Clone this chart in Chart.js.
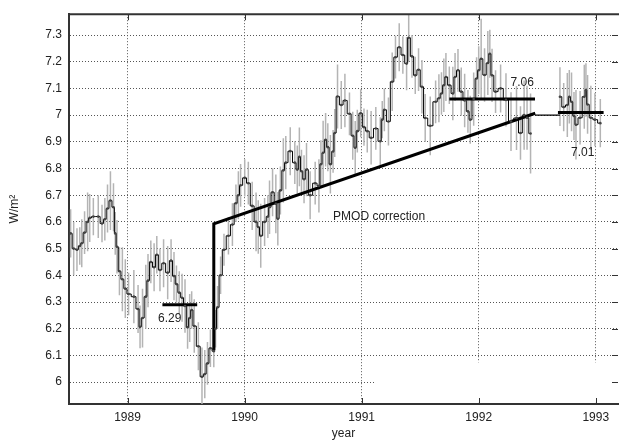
<!DOCTYPE html>
<html>
<head>
<meta charset="utf-8">
<script src="https://cdn.jsdelivr.net/npm/chart.js@4.4.0/dist/chart.umd.min.js"></script>
<style>
  html, body { margin: 0; padding: 0; background: #fff; }
</style>
</head>
<body>
<canvas id="myChart" width="622" height="441"></canvas>
<script>
// first stretch of data (to mid 1992)
var yearsA = [
  1988.514, 1988.540, 1988.568, 1988.592, 1988.609, 1988.633, 1988.659, 1988.677, 1988.708, 1988.750,
  1988.782, 1988.806, 1988.829, 1988.854, 1988.880, 1988.895, 1988.910, 1988.931, 1988.956, 1988.981,
  1989.009, 1989.054, 1989.090, 1989.107, 1989.128, 1989.156, 1989.175, 1989.199, 1989.227, 1989.250,
  1989.277, 1989.308, 1989.343, 1989.372, 1989.397, 1989.418, 1989.442, 1989.466, 1989.491, 1989.513,
  1989.531, 1989.548, 1989.570, 1989.605, 1989.636, 1989.660, 1989.683, 1989.708, 1989.737, 1989.752,
  1989.769, 1989.795, 1989.824, 1989.862, 1989.896, 1989.926, 1989.947, 1989.966, 1990.001, 1990.032,
  1990.065, 1990.098, 1990.117, 1990.138, 1990.171, 1990.199, 1990.213, 1990.239, 1990.267, 1990.284,
  1990.306, 1990.331, 1990.352, 1990.390, 1990.429, 1990.450, 1990.468, 1990.486, 1990.508, 1990.529,
  1990.560, 1990.603, 1990.635, 1990.652, 1990.671, 1990.692, 1990.711, 1990.733, 1990.756, 1990.770,
  1990.794, 1990.826, 1990.857, 1990.896, 1990.924, 1990.945, 1990.963, 1990.992, 1991.020, 1991.048,
  1991.081, 1991.121, 1991.159, 1991.176, 1991.194, 1991.229, 1991.261, 1991.289, 1991.321, 1991.352,
  1991.384, 1991.402, 1991.430, 1991.458, 1991.486, 1991.515, 1991.543, 1991.586, 1991.632, 1991.660,
  1991.682, 1991.702, 1991.720, 1991.749, 1991.779, 1991.798, 1991.823, 1991.851, 1991.880, 1991.908,
  1991.928, 1991.957, 1991.982, 1992.000, 1992.021, 1992.050, 1992.078, 1992.095, 1992.114, 1992.144,
  1992.187, 1992.233, 1992.276, 1992.323, 1992.357, 1992.388, 1992.413, 1992.443
];
var valuesA = [
  6.557, 6.500, 6.496, 6.510, 6.520, 6.560, 6.600, 6.615, 6.620, 6.620,
  6.594, 6.610, 6.650, 6.680, 6.655, 6.557, 6.507, 6.415, 6.385, 6.350,
  6.330, 6.320, 6.274, 6.207, 6.240, 6.320, 6.380, 6.450, 6.430, 6.477,
  6.420, 6.445, 6.410, 6.455, 6.397, 6.367, 6.335, 6.316, 6.285, 6.205,
  6.240, 6.270, 6.210, 6.134, 6.020, 6.030, 6.070, 6.127, 6.116, 6.200,
  6.280, 6.400, 6.496, 6.548, 6.590, 6.670, 6.700, 6.737, 6.765, 6.745,
  6.660, 6.600, 6.581, 6.548, 6.600, 6.620, 6.655, 6.711, 6.668, 6.612,
  6.718, 6.793, 6.822, 6.865, 6.822, 6.796, 6.844, 6.790, 6.760, 6.796,
  6.700, 6.745, 6.735, 6.816, 6.859, 6.908, 6.880, 6.816, 6.864, 6.933,
  7.070, 7.038, 7.055, 7.005, 6.923, 6.878, 6.940, 7.007, 6.955, 6.940,
  6.915, 6.950, 6.902, 6.983, 7.020, 6.976, 7.125, 7.217, 7.254, 7.225,
  7.193, 7.290, 7.220, 7.149, 7.170, 7.106, 6.989, 6.960, 7.050, 7.063,
  7.081, 7.112, 7.143, 7.112, 7.081, 7.143, 7.168, 7.088, 7.055, 7.014,
  6.983, 7.060, 7.137, 7.168, 7.211, 7.150, 7.195, 7.230, 7.149, 7.088,
  7.100, 7.057, 6.976, 6.989, 6.933, 7.000, 6.990, 6.931
];
var errA = [
  0.09, 0.10, 0.08, 0.07, 0.09, 0.08, 0.11, 0.09, 0.07, 0.08,
  0.07, 0.08, 0.09, 0.11, 0.09, 0.08, 0.10, 0.09, 0.12, 0.11,
  0.08, 0.10, 0.09, 0.08, 0.11, 0.12, 0.10, 0.08, 0.09, 0.07,
  0.08, 0.09, 0.10, 0.08, 0.09, 0.07, 0.08, 0.09, 0.10, 0.08,
  0.09, 0.07, 0.10, 0.09, 0.11, 0.09, 0.08, 0.07, 0.06, 0.07,
  0.08, 0.07, 0.06, 0.07, 0.08, 0.07, 0.09, 0.08, 0.07, 0.08,
  0.09, 0.11, 0.10, 0.12, 0.09, 0.08, 0.10, 0.09, 0.11, 0.10,
  0.09, 0.12, 0.10, 0.09, 0.08, 0.09, 0.11, 0.08, 0.09, 0.10,
  0.09, 0.08, 0.10, 0.09, 0.12, 0.10, 0.09, 0.11, 0.08, 0.09,
  0.12, 0.09, 0.10, 0.08, 0.09, 0.10, 0.08, 0.09, 0.07, 0.08,
  0.10, 0.08, 0.09, 0.07, 0.08, 0.09, 0.11, 0.08, 0.09, 0.07,
  0.10, 0.09, 0.08, 0.07, 0.08, 0.10, 0.09, 0.11, 0.08, 0.09,
  0.08, 0.10, 0.09, 0.07, 0.10, 0.09, 0.08, 0.09, 0.10, 0.08,
  0.09, 0.10, 0.08, 0.09, 0.15, 0.10, 0.12, 0.09, 0.10, 0.08,
  0.09, 0.10, 0.11, 0.12, 0.10, 0.13, 0.12, 0.15
];

// second stretch (late 1992)
var yearsB = [1992.694, 1992.726, 1992.757, 1992.774, 1992.793, 1992.814, 1992.831,
              1992.866, 1992.902, 1992.916, 1992.930, 1992.958, 1992.993, 1993.039];
var valuesB = [7.069, 7.030, 7.038, 7.069, 7.050, 6.997, 6.964,
               6.990, 7.069, 7.094, 7.040, 6.990, 6.983, 6.970];
var errB = [0.11, 0.09, 0.12, 0.10, 0.11, 0.09, 0.13, 0.10, 0.12, 0.10, 0.11, 0.12, 0.10, 0.09];

// mean levels [from, to, value]
var means = [[1989.298, 1989.595, 6.29], [1991.749, 1992.481, 7.06], [1992.677, 1993.067, 7.01]];
var gapLine = [[1992.483, 7.0], [1992.694, 7.0]];
// PMOD correction
var pmodX = [1989.737, 1989.737, 1992.483];
var pmodY = [6.12, 6.593, 7.007];

var notes = ['6.29', '7.06', '7.01', 'PMOD correction'];
var noteX = [1989.36, 1992.371, 1992.889, 1991.149];
var noteY = [6.238, 7.122, 6.86, 6.619];

var xTicks = [1989, 1990, 1991, 1992, 1993];
var yTicks = [6.0, 6.1, 6.2, 6.3, 6.4, 6.5, 6.6, 6.7, 6.8, 6.9, 7.0, 7.1, 7.2, 7.3];
var yTickLabels = ['6', '6.1', '6.2', '6.3', '6.4', '6.5', '6.6', '6.7', '6.8', '6.9', '7', '7.1', '7.2', '7.3'];

// blank box in the lower right, as in the original figure
var boxX = [1991.11, 1993.14];
var boxTop = 6.074;

function pts(xs, ys) {
  return xs.map(function (x, i) { return {x: x, y: ys[i]}; });
}

function lineSet(data, w) {
  return {
    type: 'line', data: data, borderColor: '#000', borderWidth: w,
    pointRadius: 0, fill: false, tension: 0
  };
}

var extras = {
  id: 'extras',
  beforeDatasetsDraw(chart) {
    var ctx = chart.ctx, sx = chart.scales.x, sy = chart.scales.y, a = chart.chartArea;
    ctx.save();
    ctx.fillStyle = '#fff';
    var bx1 = sx.getPixelForValue(boxX[0]), bx2 = sx.getPixelForValue(boxX[1]);
    var by1 = sy.getPixelForValue(boxTop);
    ctx.fillRect(bx1, by1, bx2 - bx1, a.bottom - 1.5 - by1);

    ctx.beginPath();
    ctx.rect(a.left, a.top, a.right - a.left, a.bottom - a.top);
    ctx.clip();
    ctx.strokeStyle = '#b4b4b4';
    ctx.lineWidth = 1.5;
    function bars(xs, ys, es) {
      for (var i = 0; i < xs.length; i++) {
        var px = sx.getPixelForValue(xs[i]);
        ctx.beginPath();
        ctx.moveTo(px, sy.getPixelForValue(ys[i] - es[i]));
        ctx.lineTo(px, sy.getPixelForValue(ys[i] + es[i]));
        ctx.stroke();
      }
    }
    bars(yearsA, valuesA, errA);
    bars(yearsB, valuesB, errB);
    ctx.restore();
  },
  afterDraw(chart) {
    var ctx = chart.ctx, sx = chart.scales.x, sy = chart.scales.y, a = chart.chartArea;
    ctx.save();
    ctx.strokeStyle = '#333';
    ctx.lineWidth = 1;
    xTicks.forEach(function (v) {
      var px = Math.round(sx.getPixelForValue(v)) + 0.5;
      ctx.beginPath();
      ctx.moveTo(px, a.bottom); ctx.lineTo(px, a.bottom - 6);
      ctx.moveTo(px, a.top); ctx.lineTo(px, a.top + 6);
      ctx.stroke();
    });
    yTicks.forEach(function (v) {
      var py = Math.round(sy.getPixelForValue(v)) + 0.5;
      ctx.beginPath();
      ctx.moveTo(a.right, py); ctx.lineTo(a.right - 6, py);
      ctx.stroke();
    });
    ctx.lineWidth = 2;
    ctx.beginPath();
    ctx.moveTo(a.left - 1, a.top); ctx.lineTo(a.right + 1, a.top);
    ctx.stroke();

    ctx.fillStyle = '#222';
    ctx.font = '12px "Liberation Sans", Arial, sans-serif';
    ctx.textAlign = 'center';
    ctx.textBaseline = 'middle';
    notes.forEach(function (t, i) {
      ctx.fillText(t, sx.getPixelForValue(noteX[i]), sy.getPixelForValue(noteY[i]));
    });
    ctx.restore();
  }
};

Chart.defaults.font.family = '"Liberation Sans", Arial, sans-serif';
Chart.defaults.font.size = 12;
Chart.defaults.color = '#222';

var datasets = [
  {
    type: 'line', data: pts(yearsA, valuesA), stepped: 'middle',
    borderColor: '#000', borderWidth: 1, pointRadius: 1.3,
    pointBackgroundColor: '#444', pointBorderWidth: 0, fill: false
  },
  {
    type: 'line', data: pts(yearsB, valuesB), stepped: 'middle',
    borderColor: '#000', borderWidth: 1, pointRadius: 1.3,
    pointBackgroundColor: '#444', pointBorderWidth: 0, fill: false
  },
  lineSet(pts(pmodX, pmodY), 3),
  lineSet(gapLine.map(function (p) { return {x: p[0], y: p[1]}; }), 1.2)
];
means.forEach(function (m) {
  datasets.push(lineSet([{x: m[0], y: m[2]}, {x: m[1], y: m[2]}], 3));
});

new Chart(document.getElementById('myChart'), {
  type: 'line',
  data: { datasets: datasets },
  options: {
    responsive: false,
    animation: false,
    layout: { padding: { top: 11, right: 1, left: 0, bottom: 0 } },
    plugins: { legend: { display: false }, tooltip: { enabled: false } },
    scales: {
      x: {
        type: 'linear', min: 1988.5, max: 1993.19,
        afterBuildTicks: function (s) { s.ticks = xTicks.map(function (v) { return {value: v}; }); },
        afterFit: function (s) { s.height = 37; },
        ticks: { padding: 6, maxRotation: 0, callback: function (v) { return String(v); } },
        grid: { color: '#555', lineWidth: 1, drawTicks: false },
        border: { display: true, color: '#333', width: 2, dash: [1, 2] },
        title: { display: true, text: 'year', padding: { top: 0, bottom: 1 }, font: { size: 12, lineHeight: 1 } }
      },
      y: {
        min: 5.918, max: 7.378,
        afterBuildTicks: function (s) { s.ticks = yTicks.map(function (v) { return {value: v}; }); },
        afterFit: function (s) { s.width = 69; },
        ticks: { padding: 7, callback: function (v, i) { return yTickLabels[i]; } },
        grid: { color: '#555', lineWidth: 1, drawTicks: false },
        border: { display: true, color: '#333', width: 2, dash: [1, 2] },
        title: { display: true, text: 'W/m²', padding: { top: 9, bottom: 0 }, font: { size: 12, lineHeight: 1 } }
      }
    }
  },
  plugins: [extras]
});
</script>
</body>
</html>
